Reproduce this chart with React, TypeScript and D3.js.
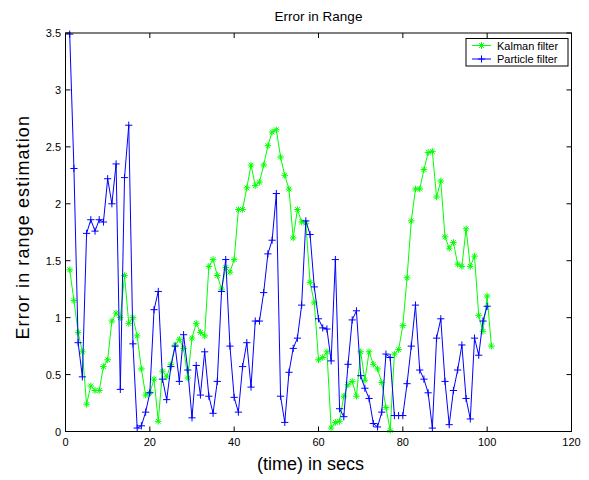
import React from 'react';
import * as d3 from 'd3';

// error values, one sample per second starting at t = 1
const kalmanError = [
  1.42, 1.15, 0.87, 0.70, 0.24, 0.40, 0.36, 0.36, 0.57, 0.63,
  0.97, 1.04, 1.00, 1.37, 0.95, 1.00, 0.84, 0.55, 0.32, 0.34,
  0.46, 0.09, 0.53, 0.48, 0.59, 0.76, 0.81, 0.73, 0.47, 0.82,
  0.95, 0.87, 0.84, 1.45, 1.51, 1.37, 1.25, 1.44, 1.40, 1.51,
  1.95, 1.95, 2.14, 2.34, 2.16, 2.19, 2.34, 2.51, 2.63, 2.65,
  2.41, 2.25, 2.13, 1.70, 1.95, 1.84, 1.83, 1.31, 1.13, 0.63,
  0.65, 0.70, 0.03, 0.08, 0.09, 0.31, 0.41, 0.44, 0.31, 0.70,
  0.45, 0.70, 0.59, 0.55, 0.43, 0.21, 0.01, 0.68, 0.72, 0.93,
  1.35, 1.85, 2.13, 2.13, 2.30, 2.45, 2.46, 2.06, 2.20, 1.71,
  1.61, 1.66, 1.47, 1.45, 1.78, 1.45, 1.54, 1.02, 0.88, 1.19,
  0.75
];

const particleError = [
  3.49, 2.31, 0.78, 0.48, 1.74, 1.86, 1.76, 1.86, 1.84, 2.22,
  2.00, 2.35, 0.37, 2.23, 2.69, 0.77, 0.03, 0.05, 0.17, 0.34,
  1.07, 1.23, 0.46, 0.28, 0.57, 0.75, 0.44, 0.85, 0.54, 0.12,
  0.58, 0.32, 0.70, 0.31, 0.16, 0.44, 1.23, 1.51, 0.75, 0.30,
  0.17, 0.57, 0.78, 0.39, 0.97, 0.97, 1.22, 1.56, 1.68, 2.09,
  0.31, 0.08, 0.52, 0.73, 0.82, 1.11, 1.85, 1.73, 1.27, 0.99,
  0.91, 0.90, 0.62, 1.51, 0.20, 0.13, 0.59, 0.98, 1.06, 0.49,
  0.38, 0.29, 0.07, 0.04, 0.17, 0.68, 0.65, 0.14, 0.14, 0.14,
  0.42, 0.75, 1.11, 0.54, 0.46, 0.34, 0.03, 0.82, 0.99, 0.44,
  0.06, 0.36, 0.54, 0.76, 0.29, 0.11, 0.82, 0.67, 0.97, 1.10
];

const xTicks = [0, 20, 40, 60, 80, 100, 120];
const yTicks = [0, 0.5, 1, 1.5, 2, 2.5, 3, 3.5];
const seriesNames = ['Kalman filter', 'Particle filter'];

const width = 589;
const height = 480;
const left = 65.5, right = 571.5, top = 33, bottom = 431.5;
const font = 'Liberation Sans, Arial, Helvetica, sans-serif';

// matlab style markers
function Star({ x, y, color }: { x: number; y: number; color: string }) {
  const r = 3.3, d = 2.4;
  return (
    <g stroke={color} strokeWidth={1}>
      <line x1={x - r} y1={y} x2={x + r} y2={y} />
      <line x1={x} y1={y - r} x2={x} y2={y + r} />
      <line x1={x - d} y1={y - d} x2={x + d} y2={y + d} />
      <line x1={x - d} y1={y + d} x2={x + d} y2={y - d} />
    </g>
  );
}

function Plus({ x, y, color }: { x: number; y: number; color: string }) {
  const r = 3.6;
  return (
    <g stroke={color} strokeWidth={1}>
      <line x1={x - r} y1={y} x2={x + r} y2={y} />
      <line x1={x} y1={y - r} x2={x} y2={y + r} />
    </g>
  );
}

export default function App() {
  const x = d3.scaleLinear().domain([0, 120]).range([left, right]);
  const y = d3.scaleLinear().domain([0, 3.5]).range([bottom, top]);

  const line = d3.line<number>()
    .x((d, i) => x(i + 1))
    .y(d => y(d));

  const tickLen = 5;

  return (
    <svg width={width} height={height} style={{ position: 'absolute', left: 0, top: 0, background: '#fff' }}
      fontFamily={font}>
      <rect x={0} y={0} width={width} height={height} fill="#fff" />

      {/* title */}
      <text x={(left + right) / 2} y={21} textAnchor="middle" fontSize={13.5}>Error in Range</text>

      {/* series */}
      <path d={line(kalmanError) || ''} fill="none" stroke="#00ff00" strokeWidth={1} />
      {kalmanError.map((d, i) => <Star key={'k' + i} x={x(i + 1)} y={y(d)} color="#00ff00" />)}
      <path d={line(particleError) || ''} fill="none" stroke="#0000ff" strokeWidth={1} />
      {particleError.map((d, i) => <Plus key={'p' + i} x={x(i + 1)} y={y(d)} color="#0000ff" />)}

      {/* axes box + ticks */}
      <rect x={left} y={top} width={right - left} height={bottom - top} fill="none" stroke="#000" strokeWidth={1} />
      {xTicks.map(t => (
        <g key={'xt' + t}>
          <line x1={x(t)} x2={x(t)} y1={bottom} y2={bottom - tickLen} stroke="#000" />
          <line x1={x(t)} x2={x(t)} y1={top} y2={top + tickLen} stroke="#000" />
          <text x={x(t)} y={446} textAnchor="middle" fontSize={11}>{t}</text>
        </g>
      ))}
      {yTicks.map(t => (
        <g key={'yt' + t}>
          <line x1={left} x2={left + tickLen} y1={y(t)} y2={y(t)} stroke="#000" />
          <line x1={right} x2={right - tickLen} y1={y(t)} y2={y(t)} stroke="#000" />
          <text x={61} y={y(t) + 4} textAnchor="end" fontSize={11}>{t}</text>
        </g>
      ))}

      {/* axis labels */}
      <text x={(left + right) / 2 - 8} y={470} textAnchor="middle" fontSize={18}>(time) in secs</text>
      <text transform={`translate(29,${(top + bottom) / 2 - 5}) rotate(-90)`} textAnchor="middle"
        fontSize={18} letterSpacing={1.1}>Error in range estimation</text>

      {/* legend */}
      <g>
        <rect x={466} y={38.5} width={102} height={27.5} fill="#fff" stroke="#000" strokeWidth={1} />
        {seriesNames.map((name, i) => {
          const color = i === 0 ? '#00ff00' : '#0000ff';
          const ly = 45.5 + i * 13.5;
          return (
            <g key={name}>
              <line x1={472} x2={491} y1={ly} y2={ly} stroke={color} />
              {i === 0 ? <Star x={481.5} y={ly} color={color} /> : <Plus x={481.5} y={ly} color={color} />}
              <text x={497} y={ly + 4} fontSize={11}>{name}</text>
            </g>
          );
        })}
      </g>
    </svg>
  );
}
